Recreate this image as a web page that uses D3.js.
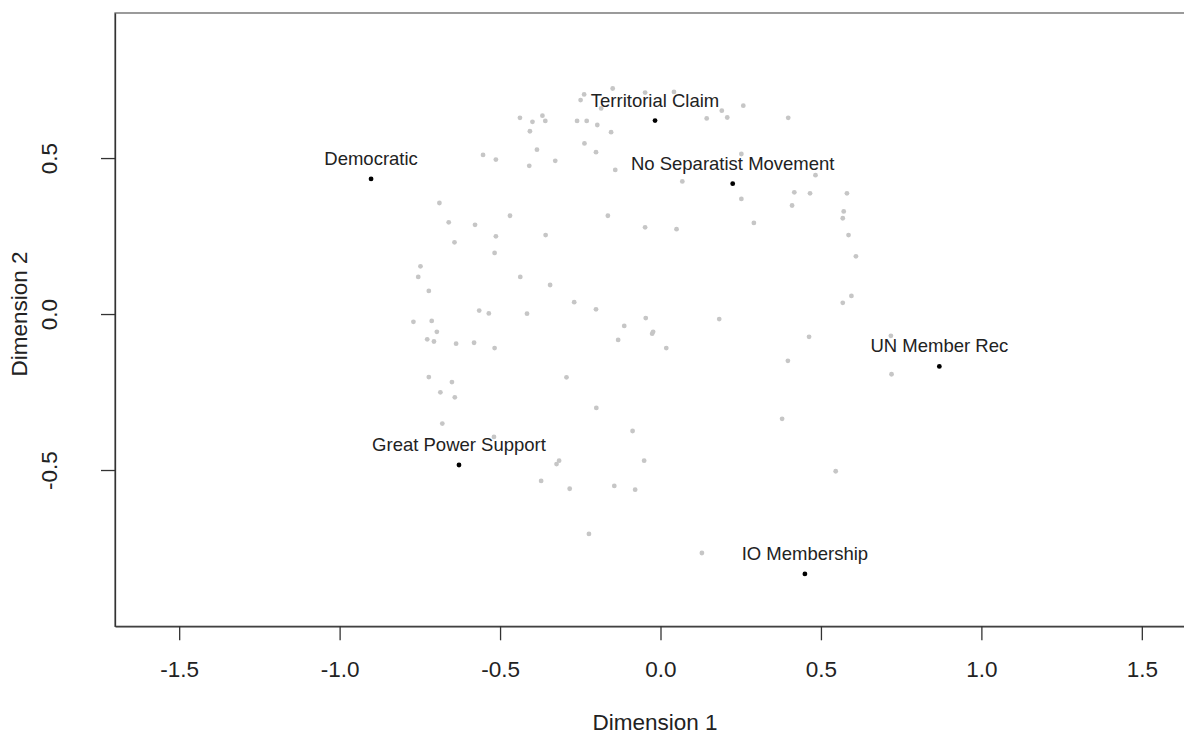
<!DOCTYPE html>
<html>
<head>
<meta charset="utf-8">
<script src="https://cdn.jsdelivr.net/npm/d3@7"></script>
<style>
  body { margin: 0; background: #fff; }
  svg text { font-family: "Liberation Sans", Arial, Helvetica, sans-serif; fill: #222; }
</style>
</head>
<body>
<svg width="1184" height="734"></svg>
<script>
// background cases (grey dots), dimension 1 / dimension 2
var caseX = [
  -0.149, -0.238, -0.249, -0.185, -0.048, 0.042, -0.438, -0.399, -0.368, -0.359,
  -0.260, -0.230, -0.197, -0.154, -0.407, -0.237, -0.201, -0.385, -0.553, -0.513,
  -0.409, -0.328, -0.141, -0.689, -0.660, -0.578, -0.469, -0.164, -0.048, 0.050,
  -0.642, -0.513, -0.358, -0.517, -0.748, 0.258, 0.191, 0.144, 0.208, 0.398,
  0.252, 0.068, 0.483, 0.252, 0.417, 0.466, 0.581, 0.410, 0.571, 0.568,
  0.291, 0.586, 0.609, 0.595, 0.568, 0.463, 0.718, 0.397, 0.720, -0.755,
  -0.722, -0.437, -0.344, -0.269, -0.201, -0.565, -0.535, -0.416, -0.770, -0.713,
  -0.697, -0.727, -0.706, -0.637, -0.581, -0.517, -0.046, -0.113, -0.023, -0.026,
  -0.132, 0.018, -0.722, -0.650, -0.686, -0.641, -0.293, -0.200, -0.680, -0.519,
  -0.087, 0.183, 0.379, -0.324, -0.316, -0.372, -0.283, -0.144, -0.079, -0.051,
  -0.223, 0.546, 0.129
];
var caseY = [
  0.723, 0.704, 0.686, 0.659, 0.710, 0.712, 0.629, 0.616, 0.636, 0.619,
  0.619, 0.619, 0.606, 0.583, 0.586, 0.547, 0.519, 0.527, 0.510, 0.495,
  0.475, 0.491, 0.462, 0.356, 0.294, 0.286, 0.315, 0.315, 0.278, 0.272,
  0.230, 0.249, 0.253, 0.196, 0.153, 0.668, 0.652, 0.627, 0.630, 0.629,
  0.513, 0.425, 0.445, 0.369, 0.390, 0.387, 0.387, 0.348, 0.329, 0.307,
  0.292, 0.253, 0.185, 0.058, 0.036, -0.073, -0.070, -0.150, -0.193, 0.119,
  0.074, 0.119, 0.093, 0.038, 0.015, 0.011, 0.002, 0.001, -0.025, -0.022,
  -0.057, -0.081, -0.088, -0.095, -0.092, -0.109, -0.013, -0.038, -0.057, -0.063,
  -0.083, -0.109, -0.202, -0.218, -0.251, -0.267, -0.203, -0.301, -0.351, -0.394,
  -0.375, -0.016, -0.336, -0.481, -0.470, -0.535, -0.560, -0.551, -0.563, -0.470,
  -0.705, -0.504, -0.766
];

// labelled variables (black dots)
var varNames = ["Democratic", "Territorial Claim", "No Separatist Movement",
                "UN Member Rec", "Great Power Support", "IO Membership"];
var varX = [-0.902, -0.017, 0.225, 0.869, -0.628, 0.450];
var varY = [0.433, 0.620, 0.418, -0.168, -0.484, -0.833];

var xTicks = [-1.5, -1.0, -0.5, 0.0, 0.5, 1.0, 1.5];
var yTicks = [-0.5, 0.0, 0.5];

var svg = d3.select("svg");

// note: "top" clashes with window.top, so use plot* names
var plotLeft = 115, plotRight = 1206, plotTop = 13, plotBottom = 626.3;

var x = d3.scaleLinear().domain([-1.7, 1.7]).range([plotLeft, plotRight]);
var y = d3.scaleLinear().domain([-1.001, 0.965]).range([plotBottom, plotTop]);

// plot frame
svg.append("rect")
  .attr("x", plotLeft).attr("y", plotTop)
  .attr("width", plotRight - plotLeft).attr("height", plotBottom - plotTop)
  .attr("fill", "none").attr("stroke", "#666").attr("stroke-width", 1.3);

// R prints a plain hyphen, not the unicode minus d3.format gives
var fmt = function(d) { return d.toFixed(1); };

var xAxis = svg.append("g")
  .attr("transform", "translate(0," + plotBottom + ")")
  .call(d3.axisBottom(x).tickValues(xTicks).tickFormat(fmt).tickSizeInner(14).tickSizeOuter(0));

var yAxis = svg.append("g")
  .attr("transform", "translate(" + plotLeft + ",0)")
  .call(d3.axisLeft(y).tickValues(yTicks).tickFormat(fmt).tickSizeInner(14).tickSizeOuter(0));

[xAxis, yAxis].forEach(function(a) {
  a.select(".domain").attr("stroke", "#333").attr("stroke-width", 1.3);
  a.selectAll(".tick line").attr("stroke", "#333").attr("stroke-width", 1.3);
  a.selectAll(".tick text")
    .attr("font-family", "Liberation Sans, Arial, sans-serif")
    .attr("font-size", 22.5).attr("fill", "#222");
});

// R style: y tick labels parallel to the axis
yAxis.selectAll(".tick text")
  .attr("x", null).attr("dy", null)
  .attr("text-anchor", "middle")
  .attr("transform", "translate(" + (57 - plotLeft) + ",0) rotate(-90)");

xAxis.selectAll(".tick text").attr("dy", null).attr("y", 51);

svg.append("text")
  .attr("x", 655).attr("y", 730)
  .attr("text-anchor", "middle")
  .attr("font-size", 22.5)
  .text("Dimension 1");

svg.append("text")
  .attr("transform", "translate(27," + y(0) + ") rotate(-90)")
  .attr("text-anchor", "middle")
  .attr("font-size", 22.5)
  .text("Dimension 2");

// grey cases
svg.append("g").selectAll("circle")
  .data(d3.range(caseX.length))
  .join("circle")
  .attr("cx", function(i) { return x(caseX[i]); })
  .attr("cy", function(i) { return y(caseY[i]); })
  .attr("r", 2.4)
  .attr("fill", "#c6c6c6");

// labelled variables
var vars = svg.append("g").selectAll("g")
  .data(d3.range(varNames.length))
  .join("g")
  .attr("transform", function(i) { return "translate(" + x(varX[i]) + "," + y(varY[i]) + ")"; });

vars.append("circle").attr("r", 2.4).attr("fill", "#000");

vars.append("text")
  .attr("y", -14)
  .attr("text-anchor", "middle")
  .attr("font-size", 18.5)
  .text(function(i) { return varNames[i]; });
</script>
</body>
</html>
